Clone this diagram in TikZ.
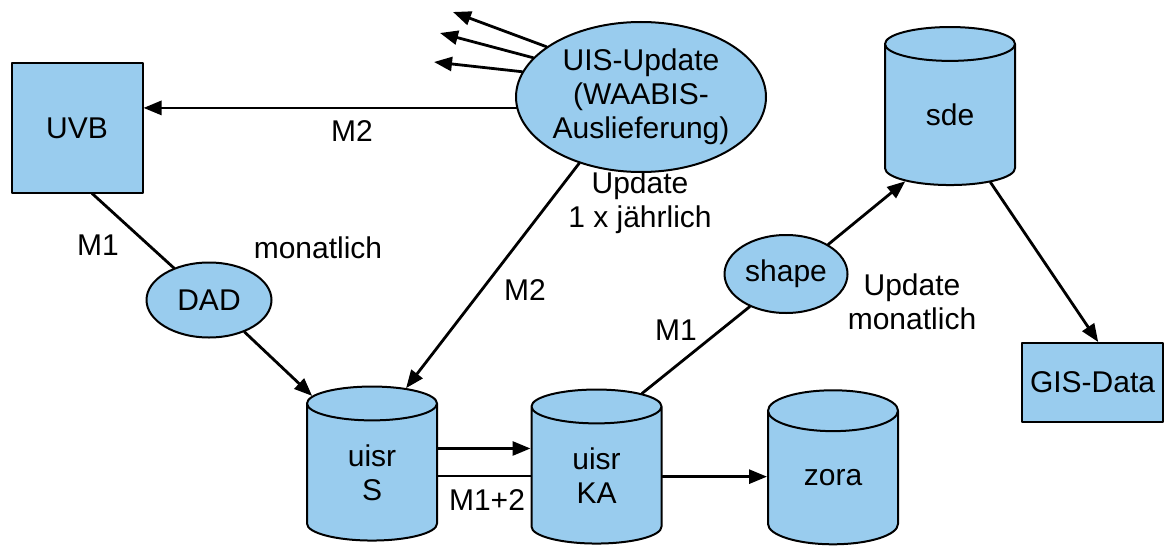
\documentclass[tikz,border=0pt]{standalone}
\usepackage{fontspec}
\setmainfont{Liberation Sans}
\usetikzlibrary{shapes.geometric,arrows.meta}

\definecolor{boxblue}{RGB}{153,204,238}

\begin{document}
\begin{tikzpicture}[x=0.5pt,y=-0.5pt,line cap=round,line join=round,
    >={Triangle[length=9pt,width=7pt]},
    every node/.style={inner sep=0pt,font=\fontsize{15}{17}\selectfont},
    box/.style={draw,line width=1pt,fill=boxblue,rectangle},
    oval/.style={draw,line width=1pt,fill=boxblue,ellipse},
    db/.style={draw,line width=1pt,fill=boxblue,cylinder,shape border rotate=90,
      aspect=0.7,minimum width=65pt,minimum height=77pt},
    flow/.style={line width=1.4pt},
    lbl/.style={align=center}]
  \useasboundingbox (0,0) rectangle (1165,551);

  % sources
  \node[box,minimum width=65.5pt,minimum height=64.5pt] (UVB) at (77,128) {UVB};
  \node[oval,minimum width=123.5pt,minimum height=75pt,align=center] (uis) at (641,97)
    {UIS-Update\\(WAABIS-\\Auslieferung)};
  \node[oval,minimum width=62.5pt,minimum height=37.5pt] (DAD) at (209,300) {DAD};
  \node[oval,minimum width=61.5pt,minimum height=39pt] (shape) at (786,274) {shape};

  % databases
  \node[db,align=center] (S) at (372,472.5) {uisr\\S};
  \node[db,align=center] (KA) at (596.5,475.5) {uisr\\KA};
  \node[db] (zora) at (833,478) {zora};
  \node[db,minimum height=79pt] (sde) at (950,115) {sde};
  \node[box,minimum width=70.5pt,minimum height=39.5pt] (GIS) at (1092.5,382.5) {GIS-Data};

  % outgoing updates
  \coordinate (out1) at (453,12);
  \coordinate (out2) at (440,33);
  \coordinate (out3) at (434,62);
  \draw[flow,->] (uis.152) -- (out1);
  \draw[flow,->] (uis.160) -- (out2);
  \draw[flow,->] (uis.168) -- (out3);

  \draw[flow,->] (uis.185) -- (uis.185 -| UVB.0);
  \draw[flow,->] (uis.227) -- (S.68);
  \draw[flow] (DAD) -- (UVB.-77);
  \draw[flow,->] (DAD.-42) -- (S.128);
  \draw[flow,->] (S.20) -- (S.20 -| KA.180);
  \draw[flow] (S.-3) -- (S.-3 -| KA.180);
  \draw[flow,->] (KA.-1) -- (KA.-1 -| zora.180);
  \draw[flow] (KA.61) -- (shape.222);
  \draw[flow,->] (shape.35) -- (sde.236);
  \draw[flow,->] (sde.-59) -- (GIS.82);

  % labels
  \node[lbl] (m2a) at (352,131) {M2};
  \node[lbl] (m1a) at (98,245) {M1};
  \node[lbl] (mon) at (318,248) {monatlich};
  \node[lbl] (upj) at (640,203) {Update\\1 x jährlich};
  \node[lbl] (m2b) at (525,290) {M2};
  \node[lbl] (m1b) at (676,330) {M1};
  \node[lbl] (upm) at (912,302) {Update\\monatlich};
  \node[lbl] (m12) at (487,500) {M1+2};
\end{tikzpicture}
\end{document}
